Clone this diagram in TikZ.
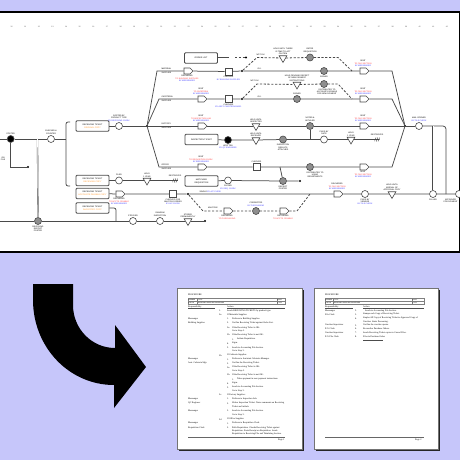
\documentclass[tikz,border=0pt]{standalone}
\usepackage{fontspec}
\setmainfont{Liberation Serif}
\setsansfont{Liberation Sans}
\usetikzlibrary{positioning, shapes.geometric, shapes.symbols, calc}
\definecolor{backlav}{HTML}{C6C6FA}
\definecolor{flowline}{HTML}{4A4A4A}
\definecolor{notered}{HTML}{FF3C3C}
\definecolor{noteblue}{HTML}{3C3CFF}
\definecolor{copyorange}{HTML}{FF9A30}
\definecolor{hatchgray}{HTML}{8E8E8E}
\newcommand{\redtxt}[1]{\textcolor{notered}{#1}}
\newcommand{\bluetxt}[1]{\textcolor{noteblue}{#1}}
\newcommand{\orgtxt}[1]{\textcolor{copyorange}{#1}}

\begin{document}
\begin{tikzpicture}[x=1pt, y=-1pt,
		lbl/.style={font=\sffamily\fontsize{2}{2.45}\selectfont, align=center, inner sep=0.3pt},
		every label/.style={lbl},
		label distance=0.4pt,
		rulenum/.style={font=\sffamily\fontsize{1.8}{2}\selectfont, text=black!70, inner sep=0},
		flow/.style={draw=flowline, line width=0.75pt},
		dashflow/.style={draw=flowline, line width=0.8pt, dash pattern=on 2.2pt off 1.6pt},
		dblflow/.style={draw=flowline, line width=0.35pt, double, double distance=0.6pt},
		opcirc/.style={circle, draw=flowline, line width=0.6pt, fill=white, minimum size=7pt, inner sep=0},
		hatchcirc/.style={opcirc, fill=hatchgray},
		blackcirc/.style={opcirc, fill=black},
		insq/.style={rectangle, draw=flowline, line width=0.6pt, fill=white, minimum size=7pt, inner sep=0},
		holdtri/.style={regular polygon, regular polygon sides=3, shape border rotate=180,
			draw=flowline, line width=0.6pt, fill=white, minimum size=9pt, inner sep=0},
		movearr/.style={signal, signal to=east, draw=flowline, line width=0.6pt, fill=white,
			minimum width=9pt, minimum height=6pt, inner sep=0},
		jdot/.style={circle, fill=black, minimum size=2.2pt, inner sep=0},
		endmark/.style={minimum width=5pt, minimum height=5pt, inner sep=0,
			path picture={\draw[flowline, line width=0.45pt]
				([xshift=-2.6pt,yshift=-2pt]path picture bounding box.center) -- ++(1.6pt,4pt)
				([xshift=-0.8pt,yshift=-2pt]path picture bounding box.center) -- ++(1.6pt,4pt)
				([xshift=1pt,yshift=-2pt]path picture bounding box.center) -- ++(1.6pt,4pt);}},
		ticket/.style={draw=flowline, line width=0.8pt, rounded corners=1pt, fill=white,
			minimum width=33pt, minimum height=10.5pt, align=center, inner sep=0,
			font=\sffamily\fontsize{2.1}{3}\selectfont},
		pgtxt/.style={font=\fontsize{2.3}{2.5}\selectfont, anchor=west, inner sep=0},
		tabtxt/.style={font=\sffamily\fontsize{1.5}{1.8}\selectfont, anchor=west, inner sep=0},
		]
		\useasboundingbox (0,0) rectangle (460,460);
		\fill[backlav] (0,0) rectangle (460,460);

		% chart panel
		\fill[white] (-1,12) rectangle (459,252);
		\draw[line width=1.2pt] (-1,12) -- (461,12);
		\draw[line width=1.2pt] (-1,252) -- (461,252);
		\draw[line width=0.6pt] (459,12) -- (459,252);

		% ruler
		\foreach \t [count=\n from 0] in {10,...,42} {
			\node[rulenum] (tick\n) at ({11.7+13.6*\n},26.7) {\t};
		}

		% receiving tickets and forms
		\node[ticket] (rtorig) at (92.5,126) {RECEIVING TICKET\\\orgtxt{ORIGINAL COPY}};
		\node[ticket] (rtrec) at (92.5,180.5) {RECEIVING TICKET\\\orgtxt{RECEIVING COPY}};
		\node[ticket] (rtap) at (92.5,193.5) {RECEIVING TICKET\\\orgtxt{ACCOUNTS PAYABLE COPY}};
		\node[ticket] (rtinv) at (92.5,208) {RECEIVING TICKET\\\orgtxt{INVENTORY COPY}};
		\node[ticket] (orderlist) at (201,58) {ORDER LIST};
		\node[ticket] (inspticket) at (201.5,139.5) {INSPECTION TICKET};
		\node[ticket] (matchreq) at (201.5,181) {MATCHING\\REQUISITION};

		% left side
		\coordinate (leftin1) at (-2,139);
		\node[blackcirc, label={above:POSTED}] (posted) at (10.7,139) {};
		\coordinate (postjoin) at (37.5,139);
		\node[opcirc, label={above:{CHECKED \&\\COUNTED}}] (counted) at (51,139) {};
		\coordinate (brackmid) at (66,139);
		\coordinate (bracktop) at (70,122);
		\coordinate (brackbot) at (70,186);
		\node[jdot] (pendend) at (28,167) {};
		\node[lbl, anchor=west] (pendlbl) at (0.5,159) {ON\\FILE};

		% bottom row
		\coordinate (leftin2) at (-2,221);
		\node[hatchcirc, label={below:{RECEIVING\\REPORT\\POSTED}}] (repposted) at (38,221) {};
		\coordinate (invjoin) at (116,221);
		\node[opcirc, label={above:STOCKED}] (stocked) at (133,221) {};
		\node[opcirc, label={above:{RANDOM\\INSPECTION}}] (randinsp) at (160,221) {};
		\node[holdtri, label={above:{STORED\\PERMANENTLY}}] (storeperm) at (188,221) {};
		\node[jdot] (bottomend) at (205,221) {};

		% sorting
		\node[opcirc, label={above:{SORTED BY\\PRODUCT TYPE\\\bluetxt{BY RECEIVING CLERK}}}] (sorted) at (119,126) {};
		\node[jdot] (junc) at (147,126) {};
		\coordinate (matstart) at (157,71);
		\coordinate (cafstart) at (159,99);
		\coordinate (offstart) at (159,167);

		% material supplies
		\node[lbl, anchor=south west] (matlbl) at (161,70.2) {MATERIAL};
		\node[lbl, anchor=north west] (matlbl2) at (161,71.8) {SUPPLIES};
		\node[movearr, label={below:{DELIVERED\\\redtxt{TO BUILDING SUPPLIES}\\\bluetxt{BY MESSENGER}}}] (matdel) at (187,71) {};
		\node[insq, label={below:{CHECKED\\\bluetxt{BY BUILDING SUPPLIES}}}] (matchk) at (228.5,71.5) {};
		\node[jdot] (matfork) at (242,71) {};
		\node[lbl, anchor=south west] (matok) at (257,70) {O.K.};
		\node[hatchcirc, label={below:SIGNED}] (matsign) at (324,71) {};
		\node[movearr, label={above:{SENT\\\redtxt{TO FILE SECTION}\\\bluetxt{BY MESSENGER}}}] (matsent) at (363,71) {};
		\coordinate (matend) at (392,71);
		\coordinate (olgap) at (235,57.5);
		\node[jdot] (olend) at (246,57.5) {};
		\coordinate (matup) at (257,57.5);
		\node[lbl, anchor=south west] (matnok) at (256,56) {NOT O.K.};
		\node[holdtri, label={above:{HOLD UNTIL THERE\\IS TIME TO ACT\\ON ITEM}}] (matwait) at (283,58) {};
		\node[hatchcirc, label={above:{ENTER\\REQUISITION}}] (matenter) at (310,57.5) {};
		\coordinate (matdown) at (338,57.5);
		\coordinate (matback) at (352,71);

		% cafeteria supplies
		\node[lbl, anchor=south west] (caflbl) at (161,98.2) {CAFETERIA};
		\node[lbl, anchor=north west] (caflbl2) at (161,99.8) {SUPPLIES};
		\node[movearr, label={above:{SENT\\\redtxt{TO CAFETERIA}\\\bluetxt{BY MESSENGER}}}] (cafsent) at (201,99) {};
		\node[insq, label={below:{CHECKED\\\bluetxt{BY ASST. CAFETERIA MGR.}}}] (cafchk) at (228.5,99) {};
		\node[jdot] (caffork) at (242,99) {};
		\node[lbl, anchor=south west] (cafok) at (257,98) {O.K.};
		\node[hatchcirc, label={above:SIGNED}] (cafsign) at (297,99) {};
		\node[movearr, label={above:{SENT\\\redtxt{TO FILE SECTION}\\\bluetxt{BY MESSENGER}}}] (cafsent2) at (363,99) {};
		\coordinate (cafend) at (392,99);
		\coordinate (cafup) at (257,84);
		\node[lbl, anchor=south west] (cafnok) at (250,82.5) {NOT O.K.};
		\node[holdtri, label={above:{HOLD PENDING RECEIPT\\OF NEW PAYMENT\\INSTRUCTIONS}}] (cafwait) at (297,84.5) {};
		\node[hatchcirc, label={[xshift=3pt]below:{DISTRIBUTED TO\\ACCOUNTS PAYABLE\\FOR NEW PAYMENT}}] (cafdist) at (324,84) {};
		\coordinate (cafdown) at (338,84);
		\coordinate (cafback) at (352,99);

		% factory supplies
		\node[lbl, anchor=south west] (faclbl) at (161,125.2) {FACTORY};
		\node[lbl, anchor=north west] (faclbl2) at (161,126.8) {SUPPLIES};
		\node[movearr, label={above:{SENT\\\redtxt{TO INSPECTION LAB}\\\bluetxt{BY MESSENGER}}}] (facsent) at (201,126) {};
		\node[holdtri, label={above:{HELD UNTIL\\INSPECTED}}] (fachold) at (256,126) {};
		\node[hatchcirc, label={above:{NOTED \&\\INITIALED}}] (facnote) at (310,126) {};
		\node[movearr, label={above:{SENT\\\redtxt{TO FILE SECTION}\\\bluetxt{BY MESSENGER}}}] (facsent2) at (363,126) {};
		\node[jdot] (merge) at (405,126) {};
		\node[opcirc, label={above:{MAIL OPENED\\\bluetxt{BY FILE CLERK}}}] (mailopen) at (419,126) {};
		\coordinate (maildrop) at (433,126);
		\coordinate (brackcorner) at (446,126);
		\coordinate (rbrackbot) at (446,194);

		% inspection ticket
		\node[blackcirc, label={below:{WRITTEN\\\bluetxt{BY QC ENGINEER}}}] (written) at (228,140) {};
		\node[holdtri, label={above:{HELD UNTIL\\RECEIVED}}] (insphold) at (256,140) {};
		\node[hatchcirc, label={below:{INSPECTION\\RESULTS\\ATTACHED}}] (inspattach) at (283,139.5) {};
		\coordinate (inspjoin) at (310,139.5);
		\node[opcirc, label={above:{FILED BY\\DATE}}] (inspfiled) at (324,139.5) {};
		\node[holdtri, label={above:{HOLD\\1 YEAR}}] (inspkeep) at (351,139.5) {};
		\node[endmark, label={above:DESTROYED}] (inspend) at (377,139.5) {};

		% office supplies
		\node[lbl, anchor=south west] (offlbl) at (161,166.2) {OFFICE};
		\node[lbl, anchor=north west] (offlbl2) at (161,167.8) {SUPPLIES};
		\node[movearr, label={above:{SENT\\\redtxt{TO REQUISITION CLERK}\\\bluetxt{BY MESSENGER}}}] (offsent) at (201,167) {};
		\node[insq, label={above:CHECKED}] (offchk) at (256.5,167) {};
		\coordinate (offbranch) at (280,167);
		\node[hatchcirc, label={[xshift=5pt]below:{DISTRIBUTED TO\\USING\\DEPARTMENTS}}] (offdist) at (310,167) {};
		\node[movearr, label={below:{SENT\\\redtxt{TO FILE SECTION}\\\bluetxt{BY MESSENGER}}}] (offsent2) at (363,167) {};
		\coordinate (offend) at (392,167);
		\node[opcirc, label={below:{PULLED\\\bluetxt{BY REQ. CLERK}}}] (reqpulled) at (228,180.5) {};
		\coordinate (reqmeet) at (256.5,180.5);
		\node[hatchcirc, label={below:{RECEIPT\\POSTED}}] (offrec) at (283,181) {};
		\node[jdot] (offrecend) at (300,181) {};

		% receiving copy
		\node[opcirc, label={above:FILED}] (recfiled) at (119,180.5) {};
		\node[holdtri, label={above:{HOLD\\1 YEAR}}] (rechold) at (147,180.5) {};
		\node[endmark, label={above:DESTROYED}] (recend) at (175,180.5) {};

		% accounts payable copy
		\node[movearr, label={below:{DELIVERED\\\redtxt{TO ACCTS. PAYABLE}\\\bluetxt{BY MESSENGER}}}] (apdel) at (119,194) {};
		\node[insq, label={below:{CHECKED FOR\\MULTIPLE ORDER\\\bluetxt{BY A/P CLERK}}}] (apchk) at (173,194) {};
		\node[jdot] (apfork) at (188,194) {};
		\node[lbl, anchor=south west] (apsingle) at (199,193) {SINGLE \bluetxt{BY A/P CLERK}};
		\node[movearr, label={above:{DELIVERED\\\redtxt{TO FILE SECTION}\\\bluetxt{BY MESSENGER}}}] (apdel2) at (337,194) {};
		\node[opcirc, label={below:{FILED BY\\VENDOR\\\bluetxt{BY FILE CLERK}}}] (apfiled) at (365,194) {};
		\node[holdtri, label={above:{HOLD UNTIL\\ARRIVAL OF\\APPROVAL COPY}}] (aphold) at (392,194) {};
		\node[opcirc, label={below:PULLED}] (appulled) at (433,194) {};
		\node[opcirc, label={[anchor=north east, xshift=-0.8pt]below:{APPROVED\\FOR PAYMENT}}] (approved) at (459,194) {};
		\coordinate (apdown) at (203,211);
		\node[lbl, anchor=south] (apmulti) at (213,209.5) {MULTIPLE};
		\node[movearr, label={below:{DELIVERED\\\redtxt{TO PURCHASING}}}] (apnotice) at (227,211) {};
		\node[hatchcirc, label={above:{CORRECTED\\\bluetxt{BY PURCHASING}}}] (apcorr) at (256,211) {};
		\node[movearr, label={below:{RETURNED\\\redtxt{TO ACCTS. PAYABLE}}}] (apret) at (283,211) {};
		\coordinate (apup) at (297,211);
		\coordinate (apback) at (310,194);

		% flow lines
		\draw[flow] (leftin1) -- (posted) -- (counted) -- (brackmid);
		\draw[flow] (posted) |- (pendend);
		\draw[dblflow] (postjoin) -- (repposted);
		\draw[flow, rounded corners=2pt] (bracktop) -- (bracktop -| brackmid) -- (brackbot -| brackmid) -- (brackbot);
		\draw[flow] (leftin2) -- (repposted) -- (stocked) -- (randinsp) -- (storeperm) -- (bottomend);
		\draw[flow, rounded corners=2pt] (rtinv) -| (invjoin);

		\draw[flow] (rtorig) -- (sorted) -- (junc);
		\draw[flow] (junc) -- (matstart) -- (matdel) -- (matchk) -- (matfork) -- (matsign) -- (matsent) -- (matend) -- (merge);
		\draw[dblflow] (orderlist) -| (matchk);
		\draw[dashflow] (olgap) -- (olend);
		\draw[dashflow] (matfork) -- (matup) -- (matwait) -- (matenter) -- (matdown) -- (matback);

		\draw[flow] (junc) -- (cafstart) -- (cafsent) -- (cafchk) -- (caffork) -- (cafsign) -- (cafsent2) -- (cafend) -- (merge);
		\draw[dashflow] (caffork) -- (cafup) -- (cafwait) -- (cafdist) -- (cafdown) -- (cafback);

		\draw[flow] (junc) -- (facsent) -- (fachold) -- (facnote) -- (facsent2) -- (merge) -- (mailopen);
		\draw[flow, rounded corners=3pt] (mailopen) -- (brackcorner) -- (rbrackbot);
		\draw[dblflow] (maildrop) -- (appulled);
		\draw[flow] (facnote) -- (inspjoin);
		\draw[flow] (inspticket) -- (written) -- (insphold) -- (inspattach) -- (inspjoin) -- (inspfiled) -- (inspkeep) -- (inspend.east);

		\draw[flow] (junc) -- (offstart) -- (offsent) -- (offchk) -- (offdist) -- (offsent2) -- (offend) -- (merge);
		\draw[flow] (offbranch) -- (offrec);
		\draw[dblflow] (offchk) -- (reqmeet);
		\draw[flow] (matchreq) -- (reqpulled) -- (offrec) -- (offrecend);

		\draw[flow] (rtrec) -- (recfiled) -- (rechold) -- (recend.east);
		\draw[flow] (rtap) -- (apdel) -- (apchk) -- (apfork) -- (apdel2) -- (apfiled) -- (aphold) -- (appulled) -- (approved);
		\draw[dashflow] (apfork) -- (apdown) -- (apnotice) -- (apcorr) -- (apret) -- (apup) -- (apback);

		% big arrow
		\fill[black] (33,284) -- (73,284) -- (73,305) .. controls (73,329) and (92,348) .. (115,348)
			-- (115,325) -- (146,367) -- (114,408) -- (114,385) .. controls (69,385) and (33,347) .. (33,300) -- cycle;

		% page 1
		\fill[black!85] (178.8,289.8) rectangle (303.6,450.6);
		\draw[fill=white, draw=black!55, line width=0.3pt] (177,288) rectangle (302,449);
		\node[pgtxt] (p1title) at (188,295) {PROCEDURE};
		\draw[black!50, line width=0.3pt] (188,298) rectangle (285,304.5);
		\draw[black!50, line width=0.3pt] (188,301.2) -- (285,301.2) (197.3,298) -- (197.3,304.5) (276.7,298) -- (276.7,304.5);
		\node[tabtxt] (p1h1) at (188.5,299.6) {NUMBER};
		\node[tabtxt] (p1h2) at (198,299.6) {TITLE};
		\node[tabtxt] (p1h3) at (277.5,299.6) {PAGE};
		\node[tabtxt] (p1v1) at (188.5,302.9) {100-204};
		\node[tabtxt] (p1v2) at (198,302.9) {RECEIVING SUPPLIES PROCEDURE};
		\node[tabtxt] (p1v3) at (277.5,302.9) {1 OF 2};
		\node[pgtxt] (p1resp) at (188,306.6) {Responsibility};
		\node[pgtxt] (p1act) at (227,306.6) {Action};
		\draw[black!70, line width=0.3pt] (188,308.4) -- (215,308.4) (227,308.4) -- (285,308.4);
		\foreach \yy/\rr/\nx/\nn/\tx/\aa [count=\k] in {
			311/{}/219/1./227/{Sends RECEIVING TICKETS by product type.},
			314.5/{}/219/2a./227/{If Materials Supplies:},
			318.5/Messenger/227/1./232/{Delivers to Building Supplies.},
			322.7/{Building Supplies}/227/2./232/{Verifies Receiving Ticket against Order List.},
			327.5/{}/227/3a./232/{If the Receiving Ticket is OK:},
			330.5/{}/227/{}/232/{Go to Step 4.},
			335/{}/227/3b./232/{If the Receiving Ticket is not OK:},
			339.3/{}/232/1./237/{Initiate Requisition.},
			343.3/{}/227/4./232/{Signs.},
			347.7/{}/227/5./232/{Sends to Accounting File Section.},
			351/{}/227/{}/232/{Go to Step 3.},
			355.3/{}/219/2b./227/{If Cafeteria Supplies:},
			359.3/Messenger/227/1./232/{Delivers to Assistant Cafeteria Manager.},
			363.3/{Asst. Cafeteria Mgr.}/227/2./232/{Verifies the Receiving Ticket.},
			367.3/{}/227/3a./232/{If the Receiving Ticket is OK:},
			370.5/{}/227/{}/232/{Go to Step 4.},
			375/{}/227/3b./232/{If the Receiving Ticket is not OK:},
			379.3/{}/232/1./237/{Takes payment in new payment instructions.},
			383.3/{}/227/4./232/{Signs.},
			387.3/{}/227/5./232/{Sends to Accounting File Section.},
			390.7/{}/227/{}/232/{Go to Step 3.},
			395/{}/219/2c./227/{If Factory Supplies:},
			399/Messenger/227/1./232/{Delivers to Inspection Lab.},
			403.3/{QC Engineer}/227/2./232/{Writes Inspection Ticket. Notes comments on Receiving},
			406.7/{}/227/{}/232/{Ticket and initials.},
			411/Messenger/227/3./232/{Sends to Accounting File Section.},
			415/{}/227/{}/232/{Go to Step 3.},
			419.3/{}/219/2d./227/{If Office Supplies:},
			423.3/Messenger/227/1./232/{Delivers to Requisition Clerk.},
			427.7/{Requisition Clerk}/227/2./232/{Pulls Requisition. Checks Receiving Ticket against},
			431/{}/227/{}/232/{Requisition. Posts Receipt on Requisition. Sends},
			434.3/{}/227/{}/232/{Requisition to Receiving File and Tabulating Section.}} {
			\node[pgtxt] (pa\k) at (188,\yy) {\rr};
			\node[pgtxt] (pb\k) at (\nx,\yy) {\nn};
			\node[pgtxt] (pc\k) at (\tx,\yy) {\aa};
		}
		\draw[black!60, line width=0.3pt] (188,436.7) -- (285,436.7);
		\node[pgtxt] (p1foot) at (278,440) {Page 1};

		% page 2
		\fill[black!85] (315.8,289.8) rectangle (439.6,450.6);
		\draw[fill=white, draw=black!55, line width=0.3pt] (314,288) rectangle (438,449);
		\node[pgtxt] (p2title) at (325,295) {PROCEDURE};
		\draw[black!50, line width=0.3pt] (325,298) rectangle (424,304.5);
		\draw[black!50, line width=0.3pt] (325,301.2) -- (424,301.2) (333.3,298) -- (333.3,304.5) (411.7,298) -- (411.7,304.5);
		\node[tabtxt] (p2h1) at (325.5,299.6) {NUMBER};
		\node[tabtxt] (p2h2) at (334,299.6) {TITLE};
		\node[tabtxt] (p2h3) at (412.5,299.6) {PAGE};
		\node[tabtxt] (p2v1) at (325.5,302.9) {100-204};
		\node[tabtxt] (p2v2) at (334,302.9) {RECEIVING SUPPLIES PROCEDURE};
		\node[tabtxt] (p2v3) at (412.5,302.9) {2 OF 2};
		\node[pgtxt] (p2resp) at (325,306.6) {Responsibility};
		\node[pgtxt] (p2act) at (363,306.6) {Action};
		\draw[black!70, line width=0.3pt] (325,308.4) -- (353,308.4) (363,308.4) -- (424,308.4);
		\foreach \yy/\rr/\nn/\tx/\aa [count=\k] in {
			310.7/Messenger/5./365/{Sends to Accounting File Section.},
			314.3/{File Clerk}/3./363/{Stamps each Copy of Receiving Ticket.},
			318.3/{}/4./363/{Staples AP Copy of Receiving Ticket to Approved Copy of},
			321.7/{}/{}/363/{Voucher. Starts Processing.},
			325.3/{Voucher Supervisor}/5./363/{Verifies the voucher quotes.},
			329/{P.O. Clerk}/6./363/{Reconciles Purchase Orders.},
			332.7/{Voucher Supervisor}/7./363/{Sends Receiving Ticket copies to Cancel Files.},
			336.7/{P.O. File Clerk}/8./363/{Files in Purchase Order.}} {
			\node[pgtxt] (qa\k) at (325,\yy) {\rr};
			\node[pgtxt] (qb\k) at (355,\yy) {\nn};
			\node[pgtxt] (qc\k) at (\tx,\yy) {\aa};
		}
		\draw[black!70, line width=0.3pt] (363,340) -- (383,340);
		\draw[black!60, line width=0.3pt] (325,436.7) -- (424,436.7);
		\node[pgtxt] (p2foot) at (415,440) {Page 2};
\end{tikzpicture}
\end{document}
